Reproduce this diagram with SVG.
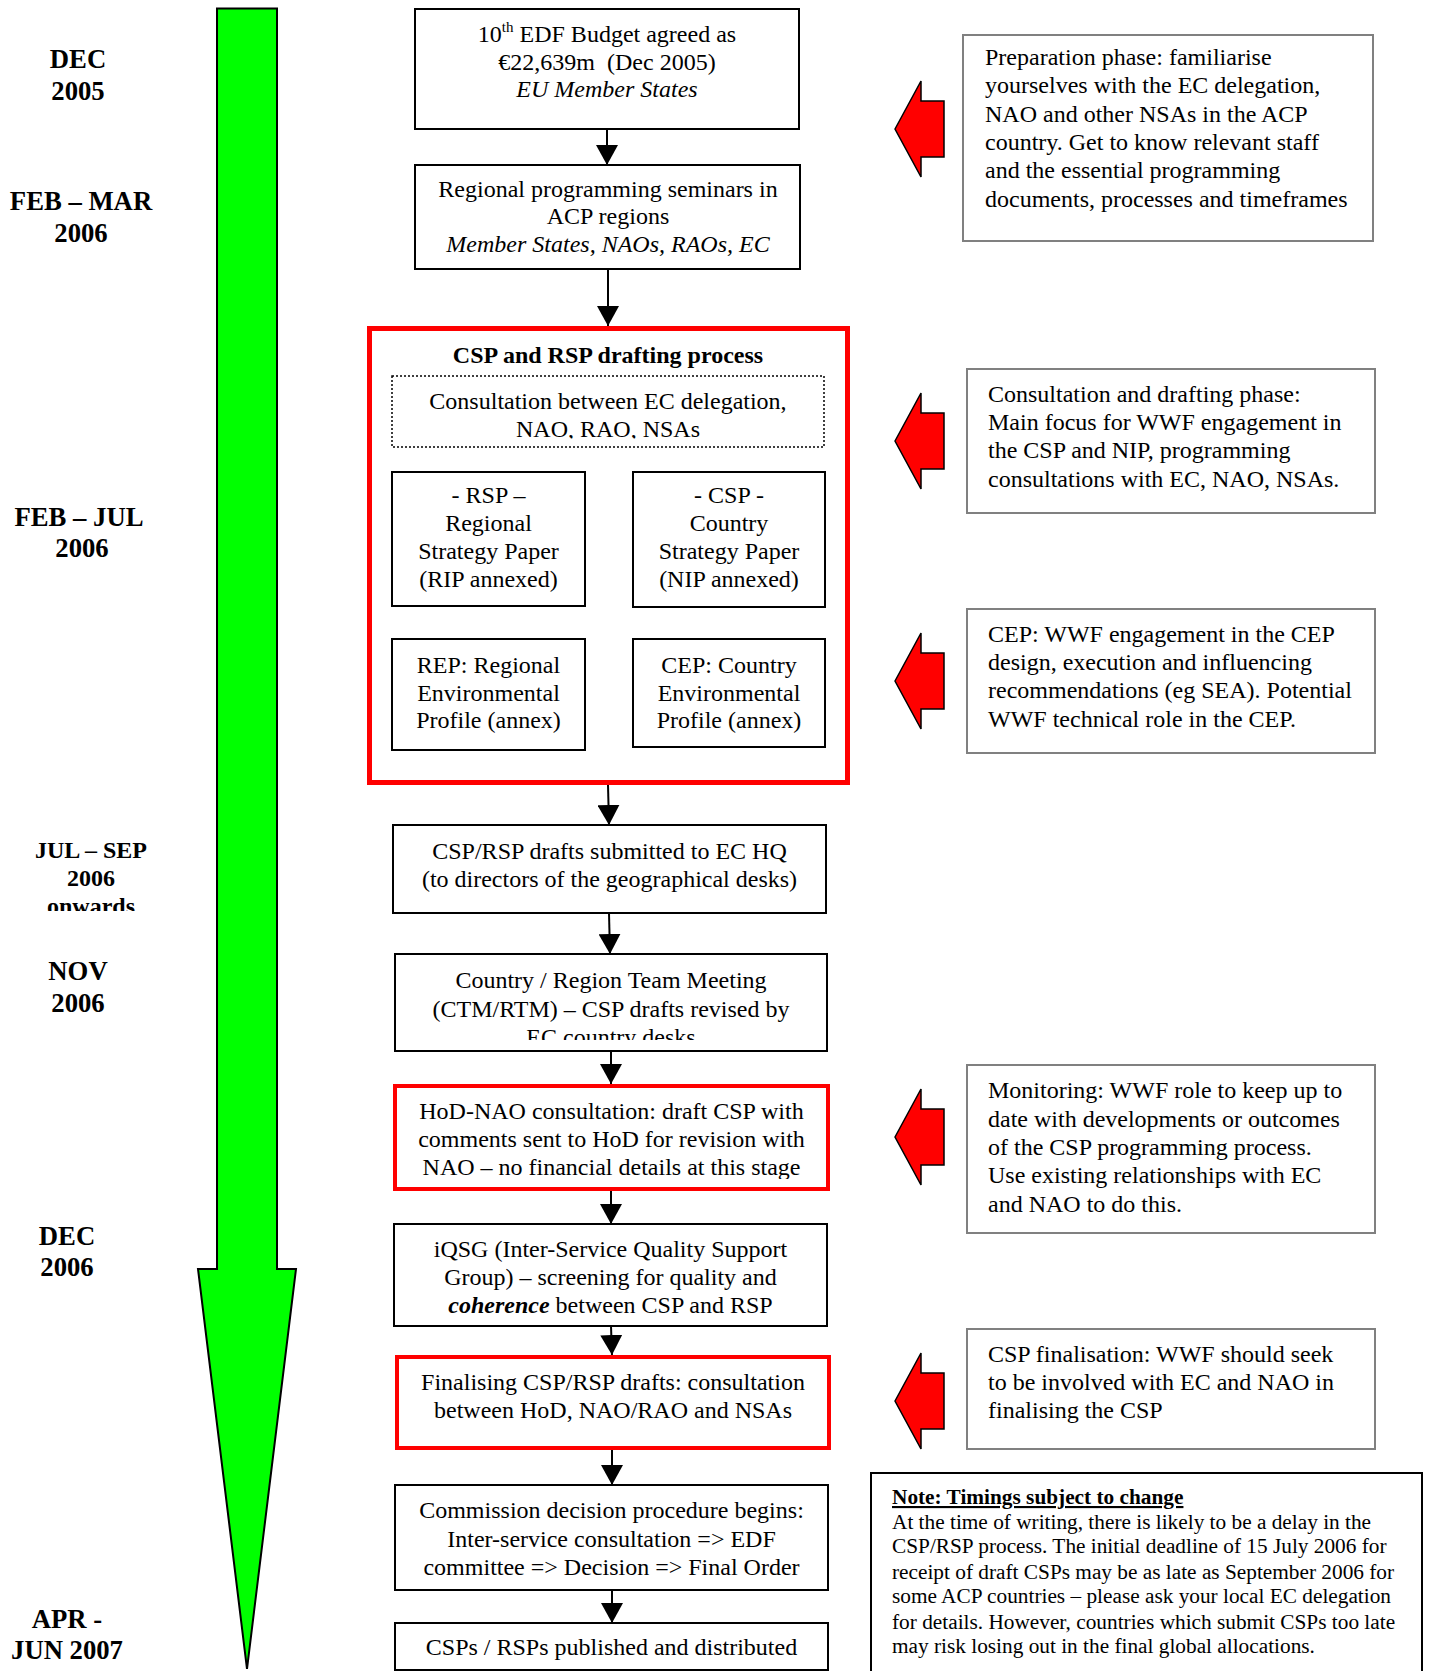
<svg xmlns="http://www.w3.org/2000/svg" width="1429" height="1671" viewBox="0 0 1429 1671">
<style>
text{font-family:"Liberation Serif","Times New Roman",serif;fill:#000}
.t{font-size:24px;text-anchor:middle}
.r{font-size:24px}
.n{font-size:21.3px}
.d{font-size:26.7px;font-weight:bold;text-anchor:middle}
.ds{font-size:24px;font-weight:bold;text-anchor:middle}
.box{fill:#fff;stroke:#000;stroke-width:2}
.rbox{fill:#fff;stroke:#ff0000;stroke-width:4}
.gbox{fill:#fff;stroke:#808080;stroke-width:2}
.con{stroke:#000;stroke-width:2;fill:none}
.arr{marker-end:url(#ah)}
.i{font-style:italic}
</style>
<defs>
<marker id="ah" viewBox="0 0 20 22" refX="20" refY="11" markerWidth="20" markerHeight="22" markerUnits="userSpaceOnUse" orient="auto">
<path d="M0,0 L20,11 L0,22 Z" fill="#000"/>
</marker>
<polygon id="redarrow" points="0,0 26,-48 26,-28 49,-28 49,28 26,28 26,48" fill="#ff0000" stroke="#000" stroke-width="1.5" stroke-linejoin="miter"/>
<clipPath id="clipOnwards"><rect x="0" y="830" width="200" height="81"/></clipPath>
<clipPath id="clipCountry"><rect x="395" y="955" width="432" height="85"/></clipPath>
<clipPath id="clipDotted"><rect x="392" y="376" width="432" height="62.5"/></clipPath>
<clipPath id="clipHoD"><rect x="395" y="1086" width="433" height="93"/></clipPath>
</defs>

<g id="timeline">
<polygon points="217,8.5 277,8.5 277,1269 296,1269 247,1669 198,1269 217,1269" fill="#00ff00" stroke="#000" stroke-width="2"/>
</g>

<g id="dates">
<text class="d" x="78" y="68">DEC</text>
<text class="d" x="78" y="100">2005</text>
<text class="d" x="81" y="210">FEB – MAR</text>
<text class="d" x="81" y="242">2006</text>
<text class="d" x="79" y="526">FEB – JUL</text>
<text class="d" x="82" y="557">2006</text>
<g clip-path="url(#clipOnwards)">
<text class="ds" x="91" y="858">JUL – SEP</text>
<text class="ds" x="91" y="886">2006</text>
<text class="ds" x="91" y="914">onwards</text>
</g>
<text class="d" x="78" y="980">NOV</text>
<text class="d" x="78" y="1012">2006</text>
<text class="d" x="67" y="1245">DEC</text>
<text class="d" x="67" y="1276">2006</text>
<text class="d" x="67" y="1628">APR -</text>
<text class="d" x="67" y="1659">JUN 2007</text>
</g>

<g id="connectors">
<line class="con arr" x1="607" y1="129" x2="607" y2="165"/>
<line class="con arr" x1="608" y1="269" x2="608" y2="326"/>
<line class="con arr" x1="608" y1="785" x2="609" y2="825"/>
<line class="con arr" x1="609" y1="913" x2="610" y2="954"/>
<line class="con arr" x1="611" y1="1051" x2="611" y2="1084"/>
<line class="con arr" x1="611" y1="1191" x2="611" y2="1224"/>
<line class="con arr" x1="611" y1="1326" x2="612" y2="1355"/>
<line class="con arr" x1="612" y1="1450" x2="612" y2="1485"/>
<line class="con arr" x1="612" y1="1590" x2="612" y2="1623"/>
<line class="con" x1="489" y1="606" x2="489" y2="639"/>
<line class="con" x1="729" y1="607" x2="729" y2="639"/>
</g>

<g id="node-budget">
<rect class="box" x="415" y="9" width="384" height="120"/>
<text class="t" x="607" y="42">10<tspan font-size="15" dy="-10">th</tspan><tspan dy="10"> EDF Budget agreed as</tspan></text>
<text class="t" x="607" y="70">€22,639m&#160; (Dec 2005)</text>
<text class="t i" x="607" y="97">EU Member States</text>
</g>

<g id="node-seminars">
<rect class="box" x="415" y="165" width="385" height="104"/>
<text class="t" x="608" y="197">Regional programming seminars in</text>
<text class="t" x="608" y="224">ACP regions</text>
<text class="t i" x="608" y="252">Member States, NAOs, RAOs, EC</text>
</g>

<g id="node-drafting">
<rect x="369.5" y="328.5" width="478" height="454" fill="#fff" stroke="#ff0000" stroke-width="5"/>
<text class="t" x="608" y="363" font-weight="bold">CSP and RSP drafting process</text>
</g>

<g id="node-consultation">
<rect x="392" y="376" width="432" height="71" fill="#fff" stroke="#000" stroke-width="1.5" stroke-dasharray="2 2"/>
<g clip-path="url(#clipDotted)">
<text class="t" x="608" y="409">Consultation between EC delegation,</text>
<text class="t" x="608" y="437">NAO, RAO, NSAs</text>
</g>
</g>

<g id="node-rsp">
<rect class="box" x="392" y="472" width="193" height="134"/>
<text class="t" x="488.5" y="503">- RSP –</text>
<text class="t" x="488.5" y="531">Regional</text>
<text class="t" x="488.5" y="559">Strategy Paper</text>
<text class="t" x="488.5" y="587">(RIP annexed)</text>
</g>

<g id="node-csp">
<rect class="box" x="633" y="472" width="192" height="135"/>
<text class="t" x="729" y="503">- CSP -</text>
<text class="t" x="729" y="531">Country</text>
<text class="t" x="729" y="559">Strategy Paper</text>
<text class="t" x="729" y="587">(NIP annexed)</text>
</g>

<g id="node-rep">
<rect class="box" x="392" y="639" width="193" height="111"/>
<text class="t" x="488.5" y="673">REP: Regional</text>
<text class="t" x="488.5" y="701">Environmental</text>
<text class="t" x="488.5" y="728">Profile (annex)</text>
</g>

<g id="node-cep">
<rect class="box" x="633" y="639" width="192" height="108"/>
<text class="t" x="729" y="673">CEP: Country</text>
<text class="t" x="729" y="701">Environmental</text>
<text class="t" x="729" y="728">Profile (annex)</text>
</g>

<g id="node-submitted">
<rect class="box" x="393" y="825" width="433" height="88"/>
<text class="t" x="609.5" y="859">CSP/RSP drafts submitted to EC HQ</text>
<text class="t" x="609.5" y="887">(to directors of the geographical desks)</text>
</g>

<g id="node-ctm">
<rect class="box" x="395" y="954" width="432" height="97"/>
<g clip-path="url(#clipCountry)">
<text class="t" x="611" y="988">Country / Region Team Meeting</text>
<text class="t" x="611" y="1017">(CTM/RTM) – CSP drafts revised by</text>
<text class="t" x="611" y="1045">EC country desks</text>
</g>
</g>

<g id="node-hod">
<rect class="rbox" x="395" y="1086" width="433" height="103"/>
<g clip-path="url(#clipHoD)">
<text class="t" x="611.5" y="1119">HoD-NAO consultation: draft CSP with</text>
<text class="t" x="611.5" y="1147">comments sent to HoD for revision with</text>
<text class="t" x="611.5" y="1175">NAO – no financial details at this stage</text>
</g>
</g>

<g id="node-iqsg">
<rect class="box" x="394" y="1224" width="433" height="102"/>
<text class="t" x="610.5" y="1257">iQSG (Inter-Service Quality Support</text>
<text class="t" x="610.5" y="1285">Group) – screening for quality and</text>
<text class="t" x="610.5" y="1313"><tspan font-weight="bold" font-style="italic">coherence</tspan> between CSP and RSP</text>
</g>

<g id="node-finalising">
<rect class="rbox" x="397" y="1357" width="432" height="91"/>
<text class="t" x="613" y="1390">Finalising CSP/RSP drafts: consultation</text>
<text class="t" x="613" y="1418">between HoD, NAO/RAO and NSAs</text>
</g>

<g id="node-commission">
<rect class="box" x="395" y="1485" width="433" height="105"/>
<text class="t" x="611.5" y="1518">Commission decision procedure begins:</text>
<text class="t" x="611.5" y="1547">Inter-service consultation =&gt; EDF</text>
<text class="t" x="611.5" y="1575">committee =&gt; Decision =&gt; Final Order</text>
</g>

<g id="node-published">
<rect class="box" x="395" y="1623" width="433" height="47"/>
<text class="t" x="611.5" y="1655">CSPs / RSPs published and distributed</text>
</g>

<g id="note-preparation">
<use href="#redarrow" x="895" y="129"/>
<rect class="gbox" x="963" y="35" width="410" height="206"/>
<text class="r" x="985" y="65">Preparation phase: familiarise</text>
<text class="r" x="985" y="93">yourselves with the EC delegation,</text>
<text class="r" x="985" y="122">NAO and other NSAs in the ACP</text>
<text class="r" x="985" y="150">country. Get to know relevant staff</text>
<text class="r" x="985" y="178">and the essential programming</text>
<text class="r" x="985" y="207">documents, processes and timeframes</text>
</g>

<g id="note-consultation">
<use href="#redarrow" x="895" y="441"/>
<rect class="gbox" x="967" y="369" width="408" height="144"/>
<text class="r" x="988" y="402">Consultation and drafting phase:</text>
<text class="r" x="988" y="430">Main focus for WWF engagement in</text>
<text class="r" x="988" y="458">the CSP and NIP, programming</text>
<text class="r" x="988" y="487">consultations with EC, NAO, NSAs.</text>
</g>

<g id="note-cep">
<use href="#redarrow" x="895" y="681"/>
<rect class="gbox" x="967" y="609" width="408" height="144"/>
<text class="r" x="988" y="642">CEP: WWF engagement in the CEP</text>
<text class="r" x="988" y="670">design, execution and influencing</text>
<text class="r" x="988" y="698">recommendations (eg SEA). Potential</text>
<text class="r" x="988" y="727">WWF technical role in the CEP.</text>
</g>

<g id="note-monitoring">
<use href="#redarrow" x="895" y="1137"/>
<rect class="gbox" x="967" y="1065" width="408" height="168"/>
<text class="r" x="988" y="1098">Monitoring: WWF role to keep up to</text>
<text class="r" x="988" y="1127">date with developments or outcomes</text>
<text class="r" x="988" y="1155">of the CSP programming process.</text>
<text class="r" x="988" y="1183">Use existing relationships with EC</text>
<text class="r" x="988" y="1212">and NAO to do this.</text>
</g>

<g id="note-finalisation">
<use href="#redarrow" x="895" y="1401"/>
<rect class="gbox" x="967" y="1329" width="408" height="120"/>
<text class="r" x="988" y="1362">CSP finalisation: WWF should seek</text>
<text class="r" x="988" y="1390">to be involved with EC and NAO in</text>
<text class="r" x="988" y="1418">finalising the CSP</text>
</g>

<g id="note-timings">
<rect class="box" x="871" y="1473" width="551" height="210"/>
<text class="n" x="892" y="1504" font-weight="bold" text-decoration="underline">Note: Timings subject to change</text>
<text class="n" x="892" y="1529">At the time of writing, there is likely to be a delay in the</text>
<text class="n" x="892" y="1553">CSP/RSP process. The initial deadline of 15 July 2006 for</text>
<text class="n" x="892" y="1579">receipt of draft CSPs may be as late as September 2006 for</text>
<text class="n" x="892" y="1603">some ACP countries – please ask your local EC delegation</text>
<text class="n" x="892" y="1629">for details. However, countries which submit CSPs too late</text>
<text class="n" x="892" y="1653">may risk losing out in the final global allocations.</text>
</g>
</svg>
